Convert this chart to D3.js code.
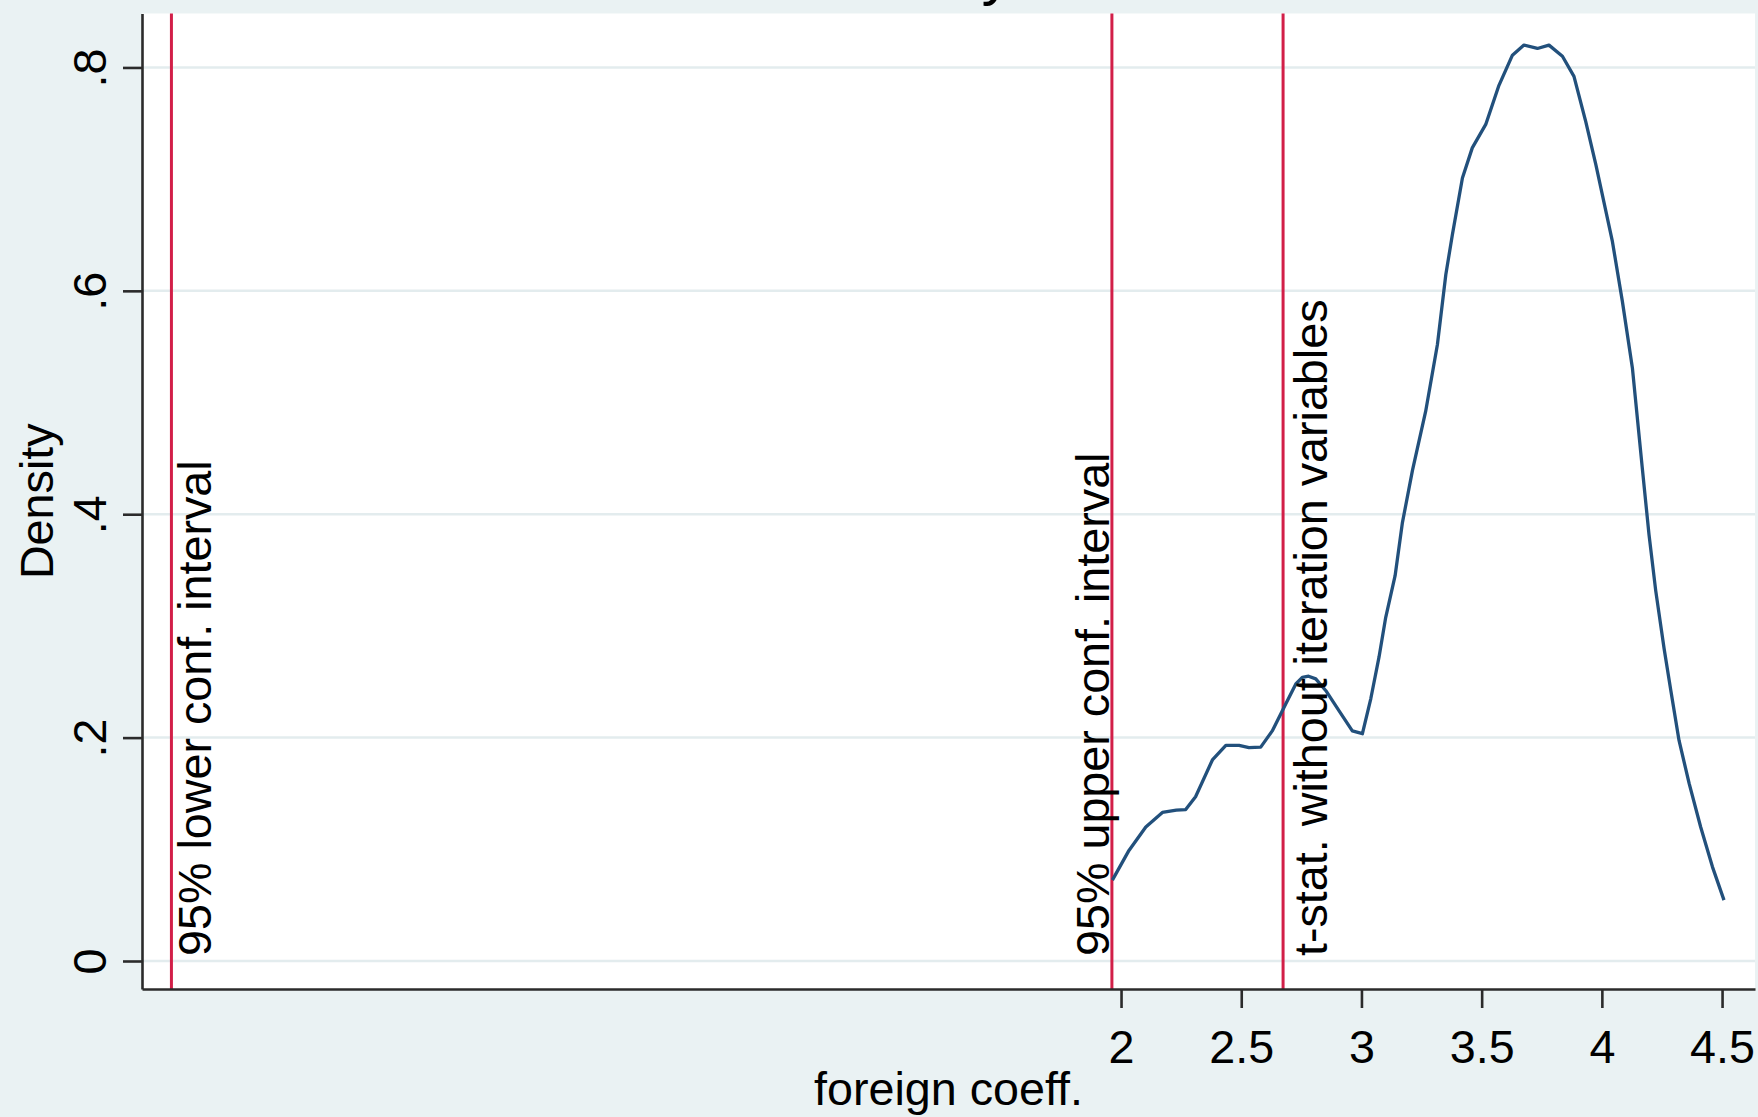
<!DOCTYPE html>
<html>
<head>
<meta charset="utf-8">
<script src="https://cdn.jsdelivr.net/npm/d3@7"></script>
<style>
  html, body { margin: 0; padding: 0; background: #eaf2f3; }
  svg { display: block; }
  text { font-family: "Liberation Sans", Arial, sans-serif; fill: #000; }
</style>
</head>
<body>
<svg id="chart" width="1758" height="1117"></svg>
<script>
// ---- data ----
const coeffX = [1.964, 2.033, 2.103, 2.172, 2.230, 2.269, 2.310, 2.380, 2.436, 2.491,
  2.532, 2.581, 2.629, 2.685, 2.727, 2.754, 2.780, 2.810, 2.852, 2.907,
  2.962, 3.004, 3.039, 3.073, 3.101, 3.140, 3.170, 3.212, 3.267, 3.316, 3.351,
  3.378, 3.420, 3.461, 3.517, 3.572, 3.628, 3.676, 3.732, 3.780, 3.836,
  3.884, 3.933, 3.975, 4.044, 4.085, 4.127, 4.168, 4.196, 4.224, 4.259,
  4.287, 4.321, 4.363, 4.411, 4.460, 4.508];
const densityY = [0.0724, 0.099, 0.120, 0.133, 0.135, 0.1356, 0.147, 0.180, 0.193, 0.193,
  0.191, 0.1915, 0.206, 0.230, 0.248, 0.254, 0.255, 0.2526, 0.242, 0.224,
  0.206, 0.2035, 0.235, 0.272, 0.3077, 0.345, 0.392, 0.439, 0.492, 0.552, 0.6146,
  0.650, 0.701, 0.728, 0.749, 0.784, 0.811, 0.820, 0.817, 0.820, 0.810,
  0.792, 0.7515, 0.713, 0.644, 0.591, 0.531, 0.4417, 0.382, 0.3316, 0.2795,
  0.242, 0.1975, 0.159, 0.120, 0.0843, 0.0545];
const refLineValues = [-1.950, 1.962, 2.674];
const refLineLabels = ["95% lower conf. interval", "95% upper conf. interval", "t-stat. without iteration variables"];
const xTickValues = [2, 2.5, 3, 3.5, 4, 4.5];
const xTickLabels = ["2", "2.5", "3", "3.5", "4", "4.5"];
const yTickValues = [0, 0.2, 0.4, 0.6, 0.8];
const yTickLabels = ["0", ".2", ".4", ".6", ".8"];
const xTitle = "foreign coeff.";
const yTitle = "Density";
const chartTitle = "Kernel density estimate";

// ---- layout ----
const W = 1758, H = 1117;
const pL = 142, pR = 1755, pT = 13.5, pB = 989;
const FS = 46.7;
const svg = d3.select("#chart");

const x = d3.scaleLinear().domain([-2.0724, 4.637]).range([pL, pR]);
const y = d3.scaleLinear().domain([-0.02507, 0.8483]).range([pB, pT]);

svg.append("rect").attr("width", W).attr("height", H).attr("fill", "#eaf2f3");
svg.append("rect").attr("x", pL).attr("y", pT)
  .attr("width", pR - pL).attr("height", pB - pT).attr("fill", "#ffffff");

// gridlines
svg.append("g").selectAll("line").data(yTickValues).join("line")
  .attr("x1", pL).attr("x2", pR)
  .attr("y1", d => y(d)).attr("y2", d => y(d))
  .attr("stroke", "#e3ecee").attr("stroke-width", 2.5);

// reference lines
svg.append("g").selectAll("line").data(refLineValues).join("line")
  .attr("x1", d => x(d)).attr("x2", d => x(d))
  .attr("y1", pT).attr("y2", pB)
  .attr("stroke", "#d21f48").attr("stroke-width", 3);

// density curve
const pts = coeffX.map((v, i) => [v, densityY[i]]);
svg.append("path").datum(pts)
  .attr("fill", "none").attr("stroke", "#22507c").attr("stroke-width", 3.3)
  .attr("stroke-linejoin", "round")
  .attr("d", d3.line().x(d => x(d[0])).y(d => y(d[1])));

// reference line labels
const labelOffsets = [40, -3, 44];
svg.append("g").selectAll("text").data(refLineValues).join("text")
  .attr("transform", (d, i) => `translate(${x(d) + labelOffsets[i]},956) rotate(-90)`)
  .attr("text-anchor", "start")
  .style("font-size", FS + "px")
  .text((d, i) => refLineLabels[i]);

// axes
const yAxis = d3.axisLeft(y).tickValues(yTickValues).tickSize(19).tickSizeOuter(0)
  .tickFormat((d, i) => yTickLabels[i]);
const gy = svg.append("g").attr("transform", `translate(${pL},0)`).call(yAxis);
gy.selectAll("text")
  .attr("x", null).attr("dy", null)
  .attr("text-anchor", "middle")
  .attr("transform", "translate(-36,0) rotate(-90)")
  .style("font-size", FS + "px")
  .style("font-family", '"Liberation Sans", Arial, sans-serif')
  .attr("fill", "#000");

const xAxis = d3.axisBottom(x).tickValues(xTickValues).tickSize(19).tickSizeOuter(0)
  .tickFormat((d, i) => xTickLabels[i]);
const gx = svg.append("g").attr("transform", `translate(0,${pB})`).call(xAxis);
gx.selectAll("text")
  .attr("y", 74).attr("dy", null)
  .style("font-size", FS + "px")
  .style("font-family", '"Liberation Sans", Arial, sans-serif')
  .attr("fill", "#000");

[gx, gy].forEach(g => {
  g.select(".domain").attr("stroke", "#2b2b2b").attr("stroke-width", 2.6);
  g.selectAll(".tick line").attr("stroke", "#2b2b2b").attr("stroke-width", 2.6);
});

// axis titles
svg.append("text").attr("x", (pL + pR) / 2).attr("y", 1105)
  .attr("text-anchor", "middle").style("font-size", FS + "px").text(xTitle);
svg.append("text").attr("transform", `translate(53,${(pT + pB) / 2}) rotate(-90)`)
  .attr("text-anchor", "middle").style("font-size", FS + "px").text(yTitle);

// title (cut off at top in the reference, only the descender of "y" is visible)
const t = svg.append("text").attr("x", 0).attr("y", -7)
  .style("font-size", "62px").text(chartTitle);
try {
  const idx = chartTitle.indexOf("y");
  const ext = t.node().getExtentOfChar(idx);
  const cx = ext.x + ext.width / 2;
  t.attr("x", 997 - cx);
} catch (e) {
  t.attr("x", 800);
}
</script>
</body>
</html>
